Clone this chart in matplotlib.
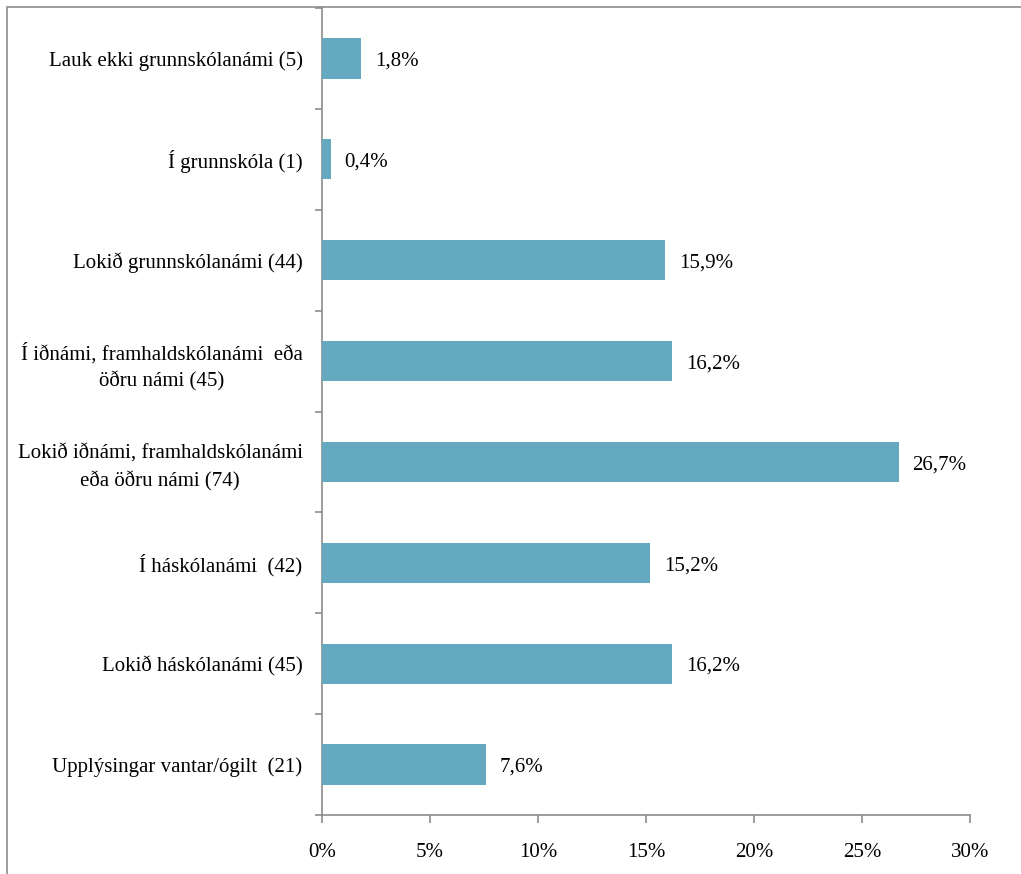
import numpy as np
import matplotlib.pyplot as plt
from matplotlib.patches import Rectangle
from matplotlib.ticker import FixedLocator, NullFormatter

# flokkar og hlutföll (%)
categories = [
    "Lauk ekki grunnskólanámi (5)",
    "Í grunnskóla (1)",
    "Lokið grunnskólanámi (44)",
    "Í iðnámi, framhaldskólanámi  eða\nöðru námi (45)",
    "Lokið iðnámi, framhaldskólanámi\neða öðru námi (74)",
    "Í háskólanámi  (42)",
    "Lokið háskólanámi (45)",
    "Upplýsingar vantar/ógilt  (21)",
]
values = [1.8, 0.4, 15.9, 16.2, 26.7, 15.2, 16.2, 7.6]
value_labels = ["1,8%", "0,4%", "15,9%", "16,2%", "26,7%", "15,2%", "16,2%", "7,6%"]
xticks = [0, 5, 10, 15, 20, 25, 30]

plt.rcParams['font.family'] = ['Liberation Serif', 'DejaVu Serif']
bar_color = '#65A9C1'
axis_color = '#8C8C8C'
fs = 15

fig = plt.figure(figsize=(10.21, 8.74), dpi=100)
ax = fig.add_axes([322 / 1021, 1 - 815 / 874, (970 - 322) / 1021, (815 - 8) / 874])

n = len(categories)
ypos = np.arange(n)
ax.barh(ypos, values, height=0.4, color=bar_color, zorder=3)

for y, v, lab in zip(ypos, values, value_labels):
    ax.annotate(lab, (v, y), xytext=(10, -2), textcoords='offset points',
                va='center', ha='left', fontsize=fs)

ax.set_xlim(0, 30)
ax.set_ylim(n - 0.5, -0.5)

ax.set_xticks(xticks)
ax.set_xticklabels([f"{t}%" for t in xticks], fontsize=fs)
ax.tick_params(axis='x', direction='out', length=6, width=1.2, color=axis_color, pad=14)

# merki milli flokka, heiti í miðju
ax.yaxis.set_major_locator(FixedLocator(np.arange(n + 1) - 0.5))
ax.yaxis.set_major_formatter(NullFormatter())
ax.yaxis.set_minor_locator(FixedLocator(ypos))
ax.set_yticklabels(categories, minor=True, fontsize=fs)
for t in ax.get_yticklabels(minor=True):
    t.set_multialignment('center')
    t.set_linespacing(1.5)
ax.tick_params(axis='y', which='major', direction='out', length=5, width=1.2, color=axis_color)
ax.tick_params(axis='y', which='minor', length=0, pad=14)

for s in ['top', 'right']:
    ax.spines[s].set_visible(False)
for s in ['left', 'bottom']:
    ax.spines[s].set_color(axis_color)
    ax.spines[s].set_linewidth(1.2)

# rammi utan um myndina
fig.patches.append(Rectangle((7 / 1021, -0.1), 1.2, 1 - 7 / 874 + 0.1,
                             transform=fig.transFigure, fill=False,
                             edgecolor=axis_color, linewidth=1.2))

fig.savefig('out.png', dpi=100)
